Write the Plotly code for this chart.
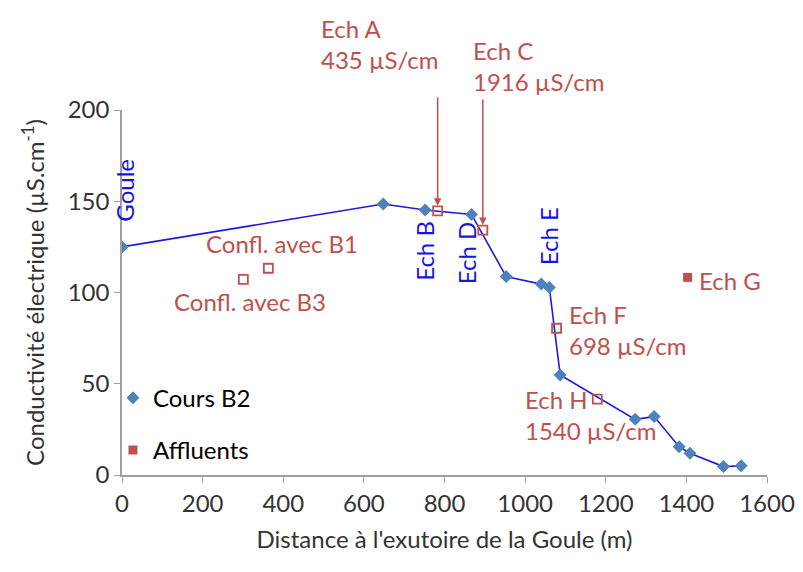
import plotly.graph_objects as go

# Cours B2 (main stream profile)
cours_x = [0, 648, 752, 867, 953, 1040, 1060, 1087, 1273, 1320, 1382, 1409, 1492, 1536]
cours_y = [125, 148.5, 145.2, 142.8, 108.7, 104.6, 102.8, 54.8, 30.5, 32, 15.5, 11.9, 4.6, 5.1]

# Affluents (tributaries) - open squares
affl_names = ["Ech A", "Ech C", "Confl. avec B3", "Confl. avec B1", "Ech F", "Ech H"]
affl_x = [783, 895, 301, 363, 1078, 1179]
affl_y = [144.7, 134.2, 107.2, 113.3, 80.4, 41.6]

# Ech G (filled square)
echg_x = [1403]
echg_y = [108.3]

RED = "#c0504d"
BLUE = "#1414e6"
FONT = "Lato"
FS = 24

fig = go.Figure()
fig.add_trace(go.Scatter(
    x=cours_x, y=cours_y, mode="lines", showlegend=False,
    line=dict(color="#1a1ae0", width=1.6),
))
fig.add_trace(go.Scatter(
    x=cours_x, y=cours_y, mode="markers", name="Cours B2",
    marker=dict(symbol="diamond", size=10, color="#4f81bd"),
    legendgroup="a",
))
fig.add_trace(go.Scatter(
    x=affl_x, y=affl_y, mode="markers", showlegend=False,
    marker=dict(symbol="square-open", size=9, color=RED, line=dict(width=1.8)),
))
fig.add_trace(go.Scatter(
    x=echg_x, y=echg_y, mode="markers", name="Affluents",
    marker=dict(symbol="square", size=9, color=RED),
    legendgroup="b",
))

ann = []
# blue rotated labels
for txt, x, y in [("Goule", 6, 156), ("Ech B", 750, 123), ("Ech D", 854, 121.6), ("Ech E", 1060, 131)]:
    ann.append(dict(x=x, y=y, text=txt, textangle=-90, showarrow=False,
                    font=dict(color=BLUE, size=FS, family=FONT)))

# red text labels (data coords)
red_labels = [
    ("Confl. avec B1", 397, 126.6, "center"),
    ("Confl. avec B3", 318, 94.8, "center"),
    ("Ech F<br>698 µS/cm", 1103, 79.5, "left"),
    ("Ech H<br>1540 µS/cm", 994, 32.9, "left"),
    ("Ech G", 1426, 106.8, "left"),
]
for txt, x, y, al in red_labels:
    ann.append(dict(x=x, y=y, text=txt, showarrow=False, xanchor=al,
                    align="left", font=dict(color=RED, size=FS, family=FONT)))

# labels above the plot area (paper y)
for txt, x, py in [("Ech A<br>435 µS/cm", 488, 1.181), ("Ech C<br>1916 µS/cm", 866, 1.12)]:
    ann.append(dict(x=x, y=py, yref="paper", text=txt, showarrow=False, xanchor="left",
                    yanchor="middle", align="left", font=dict(color=RED, size=FS, family=FONT)))

# arrows
ann.append(dict(x=783, y=147.5, ax=0, ay=-110, text="", showarrow=True, arrowhead=2,
                arrowsize=1, arrowwidth=1.5, arrowcolor=RED))
ann.append(dict(x=895, y=137, ax=0, ay=-127, text="", showarrow=True, arrowhead=2,
                arrowsize=1, arrowwidth=1.5, arrowcolor=RED))

fig.update_layout(
    width=803, height=572,
    margin=dict(l=114, r=44, t=102, b=105),
    paper_bgcolor="white", plot_bgcolor="white",
    font=dict(family=FONT, size=FS, color="#333333"),
    showlegend=True,
    legend=dict(x=-0.014, y=0.272, xanchor="left", yanchor="top", bgcolor="rgba(0,0,0,0)",
                font=dict(size=FS, color="black", family=FONT), tracegroupgap=18,
                traceorder="grouped", itemwidth=30),
    annotations=ann,
    xaxis=dict(range=[0, 1600], dtick=200, showgrid=False, zeroline=False,
               showline=True, linecolor="#a0a0a0", linewidth=1.5,
               ticks="outside", ticklen=6, tickcolor="#a0a0a0",
               tickfont=dict(size=FS, color="#333333"),
               title=dict(text="Distance à l'exutoire de la Goule (m)", font=dict(size=FS, color="#333333"),
                          standoff=16)),
    yaxis=dict(range=[0, 200], dtick=50, showgrid=False, zeroline=False,
               showline=True, linecolor="#a0a0a0", linewidth=1.5,
               ticks="outside", ticklen=6, tickcolor="#a0a0a0",
               tickfont=dict(size=FS, color="#333333"),
               title=dict(text="Conductivité électrique (µS.cm<sup>-1</sup>)", font=dict(size=FS, color="#333333"),
                          standoff=16)),
)

fig.write_html("out.html")
